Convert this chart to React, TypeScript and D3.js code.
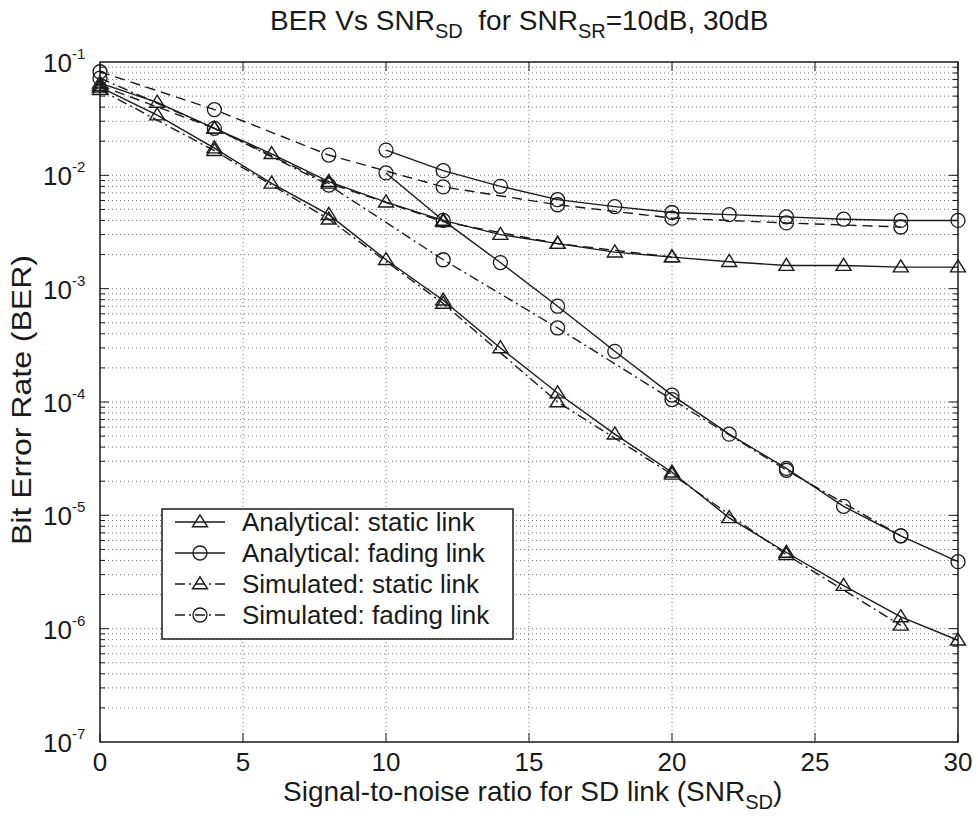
import React from "react";
import * as d3 from "d3";

// ---- data ----
const snrFull = [0, 2, 4, 6, 8, 10, 12, 14, 16, 18, 20, 22, 24, 26, 28, 30];
const snrSim = [0, 4, 8, 12, 16, 20, 24, 28];
const snrSimShort = [0, 4, 8, 12, 16, 20];
const snrFadeAna = [10, 12, 14, 16, 18, 20, 22, 24, 26, 28, 30];

// SNR_SR = 30 dB
const anaStatic30 = [0.060, 0.034, 0.0174, 0.0085, 0.0045, 0.0018, 0.00079, 0.0003, 0.00012, 5.2e-5, 2.4e-5, 9.5e-6, 4.7e-6, 2.4e-6, 1.27e-6, 7.9e-7];
const simStatic30 = [0.057, 0.0165, 0.0041, 0.00074, 0.0001, 2.3e-5, 4.5e-6, 1.07e-6];
const anaFading30 = [0.0105, 0.004, 0.0017, 0.0007, 0.00028, 0.000115, 5.2e-5, 2.6e-5, 1.2e-5, 6.6e-6, 3.9e-6];
const simFading30 = [0.072, 0.026, 0.0082, 0.0018, 0.00045, 0.000105, 2.5e-5, 6.6e-6];

// SNR_SR = 10 dB
const anaStatic10 = [0.065, 0.044, 0.026, 0.0155, 0.0088, 0.0058, 0.004, 0.003, 0.0025, 0.0021, 0.0019, 0.00173, 0.0016, 0.0016, 0.00155, 0.00155];
const simStatic10 = [0.062, 0.026, 0.0085, 0.0039, 0.0025, 0.0019];
const anaFading10 = [0.0167, 0.011, 0.008, 0.0061, 0.0053, 0.0047, 0.0045, 0.0043, 0.0041, 0.004, 0.004];
const simFading10 = [0.082, 0.038, 0.0151, 0.0079, 0.0055, 0.0042, 0.0038, 0.0035];

const xTicks = [0, 5, 10, 15, 20, 25, 30];
const yExponents = [-1, -2, -3, -4, -5, -6, -7];
const legendLabels = [
  "Analytical: static link",
  "Analytical: fading link",
  "Simulated: static link",
  "Simulated: fading link",
];

type Series = { xs: number[]; ys: number[]; marker: "tri" | "circ"; dash: string };

const SOLID = "";
const DASH = "10,6";
const DASHDOT = "10,4,2,4";

const series: Series[] = [
  { xs: snrFull, ys: anaStatic10, marker: "tri", dash: SOLID },
  { xs: snrSimShort, ys: simStatic10, marker: "tri", dash: DASH },
  { xs: snrFadeAna, ys: anaFading10, marker: "circ", dash: SOLID },
  { xs: snrSim, ys: simFading10, marker: "circ", dash: DASH },
  { xs: snrFull, ys: anaStatic30, marker: "tri", dash: SOLID },
  { xs: snrSim, ys: simStatic30, marker: "tri", dash: DASHDOT },
  { xs: snrFadeAna, ys: anaFading30, marker: "circ", dash: SOLID },
  { xs: snrSim, ys: simFading30, marker: "circ", dash: DASHDOT },
];

const legendSpec = [
  { marker: "tri", dash: SOLID },
  { marker: "circ", dash: SOLID },
  { marker: "tri", dash: DASHDOT },
  { marker: "circ", dash: DASHDOT },
];

const W = 978;
const H = 827;
const L = 100, R = 958, T = 62, B = 742;
const FONT = "'Liberation Sans', Arial, sans-serif";
const INK = "#1a1a1a";

function Marker({ kind, cx, cy }: { kind: string; cx: number; cy: number }) {
  if (kind === "circ") {
    return <circle cx={cx} cy={cy} r={7} fill="none" stroke={INK} strokeWidth={1.3} />;
  }
  const h = 12, w = 15;
  const p = `M${cx},${cy - h * 0.6} L${cx + w / 2},${cy + h * 0.4} L${cx - w / 2},${cy + h * 0.4} Z`;
  return <path d={p} fill="none" stroke={INK} strokeWidth={1.4} />;
}

export default function App() {
  const x = d3.scaleLinear().domain([0, 30]).range([L, R]);
  const y = d3.scaleLog().domain([1e-7, 1e-1]).range([B, T]);

  const minorVals: number[] = [];
  for (let k = -7; k <= -2; k++) {
    for (let m = 1; m <= 9; m++) {
      const v = m * Math.pow(10, k);
      if (v > 1e-7 && v < 1e-1) minorVals.push(v);
    }
  }

  const line = d3
    .line<[number, number]>()
    .x((d) => x(d[0]))
    .y((d) => y(d[1]));

  return (
    <svg
      width={W}
      height={H}
      style={{ position: "absolute", left: 0, top: 0, background: "#fff" }}
      fontFamily={FONT}
    >
      <rect x={0} y={0} width={W} height={H} fill="#fff" />
      {/* grid */}
      <g stroke="#777" strokeWidth={1} strokeDasharray="1,3">
        {minorVals.map((v, i) => (
          <line key={"h" + i} x1={L} x2={R} y1={y(v)} y2={y(v)} />
        ))}
        {xTicks.slice(1, -1).map((t) => (
          <line key={"v" + t} x1={x(t)} x2={x(t)} y1={T} y2={B} />
        ))}
      </g>
      {/* ticks */}
      <g stroke={INK} strokeWidth={1}>
        {minorVals.map((v, i) => {
          const major = Math.abs(Math.log10(v) - Math.round(Math.log10(v))) < 1e-9;
          const len = major ? 9 : 5;
          return (
            <g key={"t" + i}>
              <line x1={L} x2={L + len} y1={y(v)} y2={y(v)} />
              <line x1={R} x2={R - len} y1={y(v)} y2={y(v)} />
            </g>
          );
        })}
        {xTicks.map((t) => (
          <g key={"xt" + t}>
            <line x1={x(t)} x2={x(t)} y1={B} y2={B - 9} />
            <line x1={x(t)} x2={x(t)} y1={T} y2={T + 9} />
          </g>
        ))}
      </g>
      {/* series */}
      <g>
        {series.map((s, i) => {
          const pts = s.xs.map((v, j) => [v, s.ys[j]] as [number, number]);
          return (
            <g key={"s" + i}>
              <path
                d={line(pts) || ""}
                fill="none"
                stroke={INK}
                strokeWidth={1.4}
                strokeDasharray={s.dash || undefined}
              />
              {pts.map((p, j) => (
                <Marker key={j} kind={s.marker} cx={x(p[0])} cy={y(p[1])} />
              ))}
            </g>
          );
        })}
      </g>
      {/* frame */}
      <rect x={L} y={T} width={R - L} height={B - T} fill="none" stroke={INK} strokeWidth={1.5} />
      {/* legend */}
      <g>
        <rect x={162} y={509} width={351} height={130} fill="#fff" stroke={INK} strokeWidth={1.5} />
        {legendSpec.map((ls, i) => {
          const cy = 522 + i * 31;
          return (
            <g key={"lg" + i}>
              <line
                x1={175}
                x2={225}
                y1={cy}
                y2={cy}
                stroke={INK}
                strokeWidth={1.4}
                strokeDasharray={ls.dash || undefined}
              />
              <Marker kind={ls.marker} cx={200} cy={cy} />
              <text x={242} y={cy + 9} fontSize={26} fill={INK}>
                {legendLabels[i]}
              </text>
            </g>
          );
        })}
      </g>
      {/* x tick labels */}
      {xTicks.map((t) => (
        <text key={"xl" + t} x={x(t)} y={771} fontSize={26} textAnchor="middle" fill={INK}>
          {t}
        </text>
      ))}
      {/* y tick labels */}
      {yExponents.map((e) => (
        <text key={"yl" + e} x={43} y={y(Math.pow(10, e)) + 10} fontSize={26} fill={INK}>
          10
          <tspan fontSize={15} dy={-13}>
            {String(e)}
          </tspan>
        </text>
      ))}
      {/* x label */}
      <text x={283} y={801} fontSize={28} fill={INK}>
        Signal-to-noise ratio for SD link (SNR
        <tspan fontSize={20} dy={8}>SD</tspan>
        <tspan dy={-8}>)</tspan>
      </text>
      {/* y label */}
      <text
        transform={`translate(31, 400) rotate(-90)`}
        fontSize={28}
        textAnchor="middle"
        fill={INK}
        textLength={290}
        lengthAdjust="spacingAndGlyphs"
      >
        Bit Error Rate (BER)
      </text>
      {/* title */}
      <text x={270} y={30} fontSize={28} fill={INK}>
        BER Vs SNR
        <tspan fontSize={20} dy={8}>SD</tspan>
        <tspan dy={-8}>{"\u00a0\u00a0for SNR"}</tspan>
        <tspan fontSize={20} dy={8}>SR</tspan>
        <tspan dy={-8}>=10dB, 30dB</tspan>
      </text>
    </svg>
  );
}
